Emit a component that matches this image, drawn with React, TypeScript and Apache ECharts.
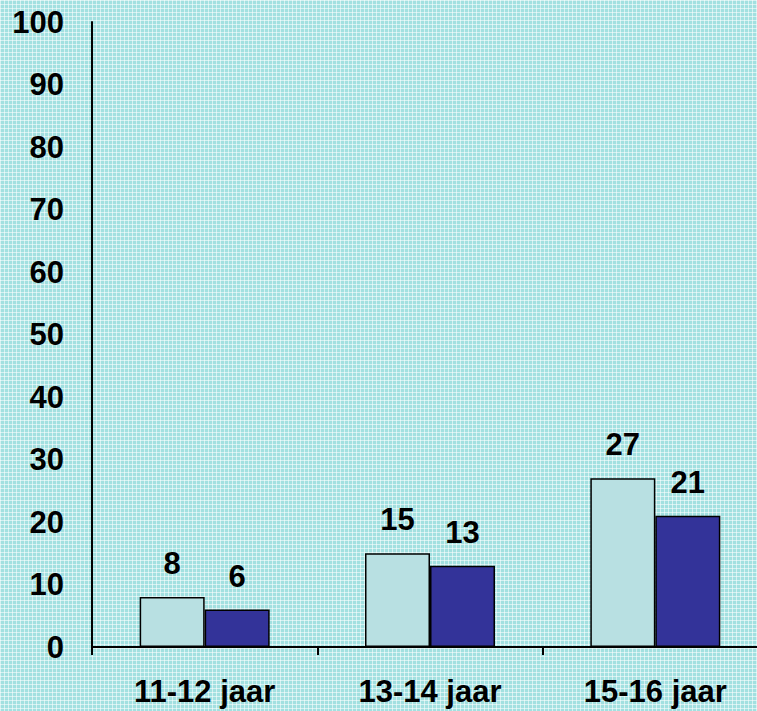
import React, { useEffect, useRef } from "react";
import * as echarts from "echarts";

const categories = ["11-12 jaar", "13-14 jaar", "15-16 jaar"];
const seriesA = [8, 15, 27];
const seriesB = [6, 13, 21];

export default function App() {
  const ref = useRef<HTMLDivElement>(null);
  useEffect(() => {
    if (!ref.current) return;
    const chart = echarts.init(ref.current, undefined, { renderer: "svg" });
    const font = { fontFamily: "Liberation Sans, Arial, sans-serif", fontWeight: "bold" as const, fontSize: 31, color: "#000" };
    chart.setOption({
      animation: false,
      backgroundColor: "transparent",
      grid: { left: 92, top: 22, width: 676, height: 625, containLabel: false },
      xAxis: {
        type: "category",
        data: categories,
        axisLine: { lineStyle: { color: "#000", width: 2 } },
        axisTick: { show: true, length: 8, lineStyle: { color: "#000", width: 2 } },
        axisLabel: { ...font, margin: 29 },
        splitLine: { show: false },
      },
      yAxis: {
        type: "value",
        min: 0,
        max: 100,
        interval: 10,
        axisLine: { show: true, lineStyle: { color: "#000", width: 2 } },
        axisTick: { show: false },
        axisLabel: { ...font, margin: 28 },
        splitLine: { show: false },
      },
      series: [
        {
          type: "bar",
          data: seriesA,
          barWidth: 65,
          barGap: "0%",
          itemStyle: { color: "#b8e0e2", borderColor: "#000", borderWidth: 1.5 },
          label: { show: true, position: "top", distance: 18, ...font },
        },
        {
          type: "bar",
          data: seriesB,
          barWidth: 65,
          barGap: "0%",
          itemStyle: { color: "#333399", borderColor: "#000", borderWidth: 1.5 },
          label: { show: true, position: "top", distance: 18, ...font },
        },
      ],
    });
    return () => chart.dispose();
  }, []);
  return (
    <div
      style={{
        position: "fixed",
        left: 0,
        top: 0,
        width: 757,
        height: 711,
        overflow: "hidden",
        backgroundColor: "#a2e0e0",
        backgroundImage:
          "linear-gradient(90deg, rgba(255,255,255,0.55) 1px, transparent 1px), linear-gradient(rgba(255,255,255,0.55) 1px, transparent 1px)",
        backgroundSize: "4px 4px",
      }}
    >
      <div ref={ref} style={{ width: 790, height: 711 }} />
    </div>
  );
}
